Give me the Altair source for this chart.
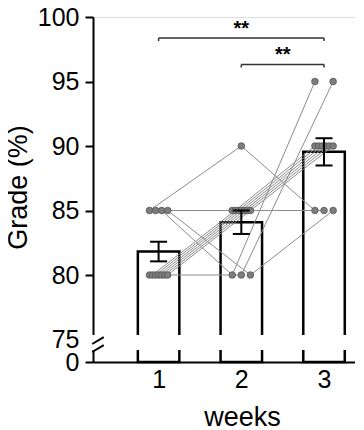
import altair as alt
import pandas as pd
import numpy as np

# ---------------- data ----------------
weeks = [1, 2, 3]
subjects = ["A", "D", "B", "K", "C", "E", "F", "G", "H", "I", "J"]
week1 = [85, 85, 85, 80, 85, 80, 80, 80, 80, 80, 80]
week2 = [90, 85, 80, 80, 80, 85, 85, 85, 85, 85, 85]
week3 = [85, 85, 95, 95, 85, 90, 90, 90, 90, 90, 90]
y_tick_values = [75, 80, 85, 90, 95, 100]
x_tick_values = [1, 2, 3]

# significance brackets: (from week, to week, bracket level, label)
sig_from = [1, 2]
sig_to = [3, 3]
sig_level = [98.37, 96.32]
sig_text = ["**", "**"]

# ---------------- layout constants ----------------
W, H = 262, 345
Y0 = 73.256           # position of "0" on the broken axis
X_DOM = [0.2674, 3.314]
SPAN = 0.22           # horizontal spread of dots with equal values (week units)
FONT = "Liberation Sans"

# ---------------- derived tables ----------------
rows = []
for wk, vals in zip(weeks, [week1, week2, week3]):
    groups = {}
    for s, v in zip(subjects, vals):
        groups.setdefault(v, []).append(s)
    for v, members in groups.items():
        n = len(members)
        for i, s in enumerate(members):
            off = 0.0 if n == 1 else -SPAN / 2 + i * SPAN / (n - 1)
            rows.append({"subject": s, "week": wk, "xj": wk + off, "grade": v})
pts = pd.DataFrame(rows)

summ = []
for wk, vals in zip(weeks, [week1, week2, week3]):
    a = np.array(vals, dtype=float)
    m = a.mean()
    se = a.std(ddof=1) / np.sqrt(len(a))
    summ.append({"week": wk, "mean": m, "lo": m - se, "hi": m + se, "base": Y0})
summ = pd.DataFrame(summ)

brk = pd.DataFrame({"top": [75.35], "bot": [74.19]})
brk_lines = pd.DataFrame({
    "x": [0.197, 0.197], "x2": [0.337, 0.337],
    "y": [74.65, 74.03], "y2": [75.19, 74.57],
})

sig = pd.DataFrame({"x1": sig_from, "x2": sig_to, "y": sig_level, "label": sig_text})
sig["ydrop"] = sig["y"] - 0.23
sig["xm"] = (sig["x1"] + sig["x2"]) / 2
sig["ytext"] = sig["y"] + 0.27
sig_ends = pd.concat([
    sig[["x1", "y", "ydrop"]].rename(columns={"x1": "x"}),
    sig[["x2", "y", "ydrop"]].rename(columns={"x2": "x"}),
])

xs = alt.Scale(domain=X_DOM, nice=False, zero=False)
ys = alt.Scale(domain=[Y0, 100], nice=False, zero=False)

x_axis = alt.Axis(
    values=x_tick_values, format="d", ticks=False, grid=False,
    labelFontSize=25, labelFont=FONT, labelColor="black", labelPadding=5,
    labelOverlap=False,
    domainColor="black", domainWidth=2,
    title="weeks", titleFont=FONT, titleFontSize=27, titleFontWeight="normal",
    titleColor="black", titleX=149, titleY=63, titleBaseline="alphabetic",
)
y_axis = alt.Axis(
    values=[Y0] + y_tick_values, grid=False,
    labelExpr="datum.value < 74 ? '0' : datum.label",
    labelFontSize=25, labelFont=FONT, labelColor="black", labelPadding=6,
    labelOverlap=False, labelFlush=False,
    tickSize=8, tickWidth=2, tickColor="black",
    domainColor="black", domainWidth=2,
    title="Grade (%)", titleFont=FONT, titleFontSize=27, titleFontWeight="normal",
    titleColor="black", titleX=-75, titleY=170, titleBaseline="middle",
)

bars = alt.Chart(summ).mark_bar(
    width=41.5, fill="white", stroke="black", strokeWidth=2.5
).encode(
    x=alt.X("week:Q", scale=xs, axis=x_axis),
    y=alt.Y("mean:Q", scale=ys, axis=y_axis),
    y2="base:Q",
)

band = alt.Chart(brk).mark_rect(fill="white", strokeWidth=0).encode(
    x=alt.value(-12), x2=alt.value(W + 4),
    y=alt.Y("top:Q", scale=ys), y2="bot:Q",
)

breaks = alt.Chart(brk_lines).mark_rule(color="black", strokeWidth=2).encode(
    x=alt.X("x:Q", scale=xs), x2="x2:Q",
    y=alt.Y("y:Q", scale=ys), y2="y2:Q",
)

lines = alt.Chart(pts).mark_line(color="#8c8c8c", strokeWidth=1).encode(
    x=alt.X("xj:Q", scale=xs), y=alt.Y("grade:Q", scale=ys),
    detail="subject:N", order="week:Q",
)

dots = alt.Chart(pts).mark_circle(
    size=44, fill="#7d7d7d", stroke="#555555", strokeWidth=0.8, opacity=1
).encode(
    x=alt.X("xj:Q", scale=xs), y=alt.Y("grade:Q", scale=ys),
)

err = alt.Chart(summ).mark_rule(color="black", strokeWidth=2).encode(
    x=alt.X("week:Q", scale=xs), y=alt.Y("lo:Q", scale=ys), y2="hi:Q",
)
caps_hi = alt.Chart(summ).mark_tick(
    orient="horizontal", size=17, thickness=2, color="black", opacity=1
).encode(x=alt.X("week:Q", scale=xs), y=alt.Y("hi:Q", scale=ys))
caps_lo = alt.Chart(summ).mark_tick(
    orient="horizontal", size=17, thickness=2, color="black", opacity=1
).encode(x=alt.X("week:Q", scale=xs), y=alt.Y("lo:Q", scale=ys))

sig_lines = alt.Chart(sig).mark_rule(color="#333333", strokeWidth=1.5).encode(
    x=alt.X("x1:Q", scale=xs), x2="x2:Q", y=alt.Y("y:Q", scale=ys),
)
sig_drops = alt.Chart(sig_ends).mark_rule(color="#333333", strokeWidth=1.5).encode(
    x=alt.X("x:Q", scale=xs), y=alt.Y("y:Q", scale=ys), y2="ydrop:Q",
)
sig_labels = alt.Chart(sig).mark_text(
    font=FONT, fontSize=20, fontWeight="bold", color="black", baseline="alphabetic"
).encode(
    x=alt.X("xm:Q", scale=xs), y=alt.Y("ytext:Q", scale=ys), text="label:N",
)

chart = alt.layer(
    bars, band, breaks, lines, dots, err, caps_hi, caps_lo,
    sig_lines, sig_drops, sig_labels,
).properties(
    width=W, height=H,
    autosize=alt.AutoSizeParams(type="none"),
    padding={"left": 85, "top": 9, "right": 0, "bottom": 67},
).configure_view(stroke=None).configure(background="white")

chart.save("out.html", embed_options={"renderer": "svg", "actions": False})
